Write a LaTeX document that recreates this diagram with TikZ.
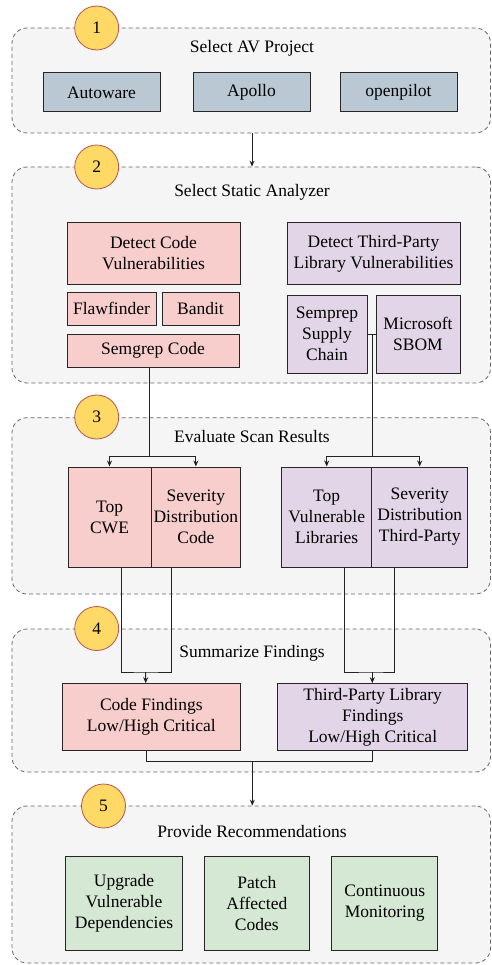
\documentclass[tikz,border=0pt]{standalone}
\usepackage{fontspec}
\setmainfont{Liberation Serif}
\usetikzlibrary{arrows.meta}
\definecolor{grpfill}{HTML}{F5F5F5}
\definecolor{grpline}{HTML}{666666}
\definecolor{bluef}{HTML}{BAC8D3}
\definecolor{pinkf}{HTML}{F8CECC}
\definecolor{purpf}{HTML}{E1D5E7}
\definecolor{greenf}{HTML}{D5E8D4}
\definecolor{circf}{HTML}{FFD966}
\definecolor{circd}{HTML}{B85450}
\definecolor{edgec}{HTML}{222222}
\begin{document}
\begin{tikzpicture}[x=1pt,y=-1pt,
  every node/.style={font=\fontsize{17.5}{21}\selectfont, text=black},
  grp/.style={draw=grpline, fill=grpfill, dash pattern=on 4pt off 3pt, line width=0.8pt, rounded corners=15pt, inner sep=0pt, minimum width=478.5pt},
  bx/.style={draw=black!85, line width=1pt, inner sep=0pt, align=center},
  blu/.style={bx, fill=bluef},
  pnk/.style={bx, fill=pinkf},
  prp/.style={bx, fill=purpf},
  grn/.style={bx, fill=greenf},
  circ/.style={circle, draw=circd, fill=circf, line width=0.8pt, minimum size=44pt, inner sep=0pt},
  ttl/.style={inner sep=0pt},
  ln/.style={draw=edgec, line width=1pt},
  arr/.style={ln, -{Stealth[length=6pt,width=5pt]}}
]
\useasboundingbox (0,0) rectangle (491,965);

% groups
\node[grp, minimum height=105pt] (g1) at (251.25,80.5) {};
\node[grp, minimum height=216pt] (g2) at (251.25,275) {};
\node[grp, minimum height=176.3pt] (g3) at (251.25,505.85) {};
\node[grp, minimum height=143pt] (g4) at (251.25,700.5) {};
\node[grp, minimum height=157pt] (g5) at (251.25,884.5) {};

% titles
\node[ttl] (t1) at (252,48) {Select AV Project};
\node[ttl] (t2) at (252,192) {Select Static Analyzer};
\node[ttl] (t3) at (252,437) {Evaluate Scan Results};
\node[ttl] (t4) at (252,653.3) {Summarize Findings};
\node[ttl] (t5) at (252,831.7) {Provide Recommendations};

% step 1
\node[blu, minimum width=117pt, minimum height=39pt] (autoware) at (101.5,92.5) {Autoware};
\node[blu, minimum width=117pt, minimum height=39pt] (apollo) at (251.5,92.5) {Apollo};
\node[blu, minimum width=117pt, minimum height=39pt] (openpilot) at (398.5,92.5) {openpilot};

% step 2
\node[pnk, minimum width=173pt, minimum height=61pt] (detcode) at (153.5,253.5) {Detect Code\\Vulnerabilities};
\node[pnk, minimum width=89pt, minimum height=33pt] (flaw) at (111.5,308.5) {Flawfinder};
\node[pnk, minimum width=77pt, minimum height=33pt] (bandit) at (200.5,308.5) {Bandit};
\node[pnk, minimum width=172pt, minimum height=33pt] (semgrep) at (153,350.5) {Semgrep Code};
\node[prp, minimum width=173pt, minimum height=61pt] (dettp) at (373.5,253.5) {Detect Third-Party\\Library Vulnerabilities};
\node[prp, minimum width=80pt, minimum height=78pt] (semprep) at (327,334) {Semprep\\Supply\\Chain};
\node[prp, minimum width=84pt, minimum height=78pt] (sbom) at (418,334) {Microsoft\\SBOM};

% step 3
\node[pnk, minimum width=83pt, minimum height=100pt] (topcwe) at (109.5,517) {Top\\CWE};
\node[pnk, minimum width=89.7pt, minimum height=100pt] (sevcode) at (195.85,517) {Severity\\Distribution\\Code};
\node[prp, minimum width=90pt, minimum height=100pt] (topvuln) at (326.7,517) {Top\\Vulnerable\\Libraries};
\node[prp, minimum width=96pt, minimum height=100pt] (sevtp) at (419.7,517) {Severity\\Distribution\\Third-Party};

% step 4
\node[pnk, minimum width=177.3pt, minimum height=66.6pt] (codefind) at (151.35,717) {Code Findings\\Low/High Critical};
\node[prp, minimum width=190pt, minimum height=66.6pt] (tpfind) at (372.7,717) {Third-Party Library\\Findings\\Low/High Critical};

% step 5
\node[grn, minimum width=116.6pt, minimum height=94.3pt] (upgrade) at (124,903.15) {Upgrade\\Vulnerable\\Dependencies};
\node[grn, minimum width=105.7pt, minimum height=94.3pt] (patch) at (256.85,903.15) {Patch\\Affected\\Codes};
\node[grn, minimum width=106pt, minimum height=94.3pt] (monitor) at (384.7,903.15) {Continuous\\Monitoring};

% step circles
\node[circ] (c1) at (96.7,28) {1};
\node[circ] (c2) at (96.7,167) {2};
\node[circ] (c3) at (96.7,417) {3};
\node[circ] (c4) at (96.7,628.5) {4};
\node[circ] (c5) at (103.5,806) {5};

% connectors
\draw[arr] (g1.south -| t1) -- (g2.north -| t1);

% semgrep -> top cwe / severity code
\coordinate (jL) at (149.7,456);
\draw[ln] ([xshift=-3.3pt]semgrep.south) -- (jL);
\draw[arr] (jL) -| (topcwe.north);
\draw[arr] (jL) -| (sevcode.north);

% supply chain / sbom -> top vuln / severity tp
\coordinate (jS) at (372,334);
\coordinate (jR) at (372,456);
\draw[ln] (semprep.east) -- (sbom.west);
\draw[ln] (jS) -- (jR);
\draw[arr] (jR) -| (topvuln.north);
\draw[arr] (jR) -| (sevtp.north);

% step 3 -> step 4
\coordinate (kL) at (145.7,672);
\draw[ln] ([xshift=12.2pt]topcwe.south) |- (kL) -| ([xshift=-24.15pt]sevcode.south);
\draw[arr] (kL) -- ([xshift=-5.65pt]codefind.north);
\coordinate (kR) at (372.3,672);
\draw[ln] ([xshift=17.3pt]topvuln.south) |- (kR) -| ([xshift=-25.4pt]sevtp.south);
\draw[arr] (kR) -- ([xshift=-0.4pt]tpfind.north);

% step 4 -> step 5
\coordinate (m) at (252.3,761.7);
\draw[ln] ([xshift=-5.35pt]codefind.south) |- (m) -| ([xshift=-0.4pt]tpfind.south);
\draw[arr] (m) -- (g5.north -| m);
\end{tikzpicture}
\end{document}
